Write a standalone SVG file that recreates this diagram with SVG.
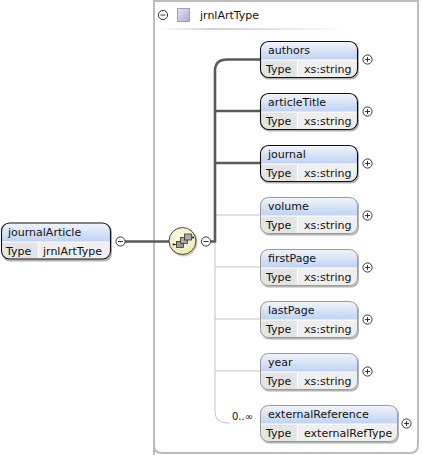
<svg xmlns="http://www.w3.org/2000/svg" width="422" height="455" viewBox="0 0 422 455">
<style>
text{font-family:"DejaVu Sans","Liberation Sans",sans-serif;font-size:11px;fill:#111}
.frame{fill:#fff;stroke:#bcbcbc;stroke-width:2}
.bold{fill:none;stroke:#5a5a5a;stroke-width:2.6}
.thin{fill:none;stroke:#c4c4c4;stroke-width:1}
.box{fill:#efefef}
.hd{fill:url(#hg)}
.cell{fill:#e4e4e4}
.sep{stroke:#fff;stroke-width:1.2}
.o1{fill:none;stroke:#111;stroke-width:1.1}
.o2{fill:none;stroke:#9a9a9a;stroke-width:1}
.shadow{fill:#000;opacity:.3}
.pm{fill:#fff;stroke:#222;stroke-width:.9}
.pl{stroke:#222;stroke-width:.9}
</style>
<defs>
<linearGradient id="hg" x1="0" y1="0" x2="0" y2="1"><stop offset="0" stop-color="#f2f6fd"/><stop offset="1" stop-color="#bed2f0"/></linearGradient>
<linearGradient id="ln" x1="0" y1="0" x2="1" y2="0"><stop offset="0" stop-color="#fff"/><stop offset=".3" stop-color="#d0d0d0"/><stop offset="1" stop-color="#fff"/></linearGradient>
<linearGradient id="sq" x1="0" y1="0" x2="1" y2="1"><stop offset="0" stop-color="#e8e2f3"/><stop offset="1" stop-color="#b5a6d4"/></linearGradient>
<radialGradient id="yl" cx=".4" cy=".35" r=".7"><stop offset="0" stop-color="#fdfbe0"/><stop offset="1" stop-color="#efe9b0"/></radialGradient>
<clipPath id="c98"><rect width="98" height="37" rx="8"/></clipPath>
<clipPath id="c138"><rect width="138" height="37" rx="8"/></clipPath>
<clipPath id="c110"><rect width="110" height="37" rx="8"/></clipPath>
<g id="plus"><circle r="4.6" class="pm"/><path class="pl" d="M-2.500 0H2.500M0-2.500V2.500"/></g>
<g id="minus"><circle r="4.6" class="pm"/><path class="pl" d="M-2.500 0H2.500"/></g>
</defs>
<path class="frame" d="M154 455V1H418V445Q418 453 410 453H162Q154 453 154 445"/>
<g id="group-header">
<use href="#minus" x="163" y="15"/>
<rect x="177.500" y="8.500" width="12" height="13" fill="url(#sq)" stroke="#a89cc4"/>
<text x="200" y="19">jrnlArtType</text>
<rect x="158" y="28" width="190" height="2" fill="url(#ln)"/>
</g>
<g id="connectors">
<path class="thin" d="M215 215H260M215 267H260M215 319H260M215 371H260M215 239V411Q215 423 227 423H230"/>
<path class="bold" d="M125 241.500H170"/>
<path class="bold" d="M211 241.500H215V71Q215 59.500 227 59.500H260M215 111H260M215 163H260"/>
<text x="232" y="420" style="font-size:10px">0..∞</text>
</g>
<g id="journalArticle">
<rect class="shadow" x="2" y="224" width="110" height="37.500" rx="8"/>
<g transform="translate(1,222.500)"><g clip-path="url(#c110)"><rect class="box" width="110" height="37"/><rect class="hd" width="110" height="19.500"/><rect class="cell" y="19.500" width="37" height="18"/><path class="sep" d="M0 19.500H110M37.500 19.500V37"/></g><rect class="o1" x=".5" y=".5" width="109" height="36" rx="8"/></g>
<text x="8" y="236">journalArticle</text>
<text x="6" y="255">Type</text>
<text x="43" y="255">jrnlArtType</text>
<use href="#minus" x="120.500" y="241.500"/>
</g>
<g id="sequence">
<circle cx="183.500" cy="242.500" r="14" fill="#000" opacity=".2"/>
<circle cx="182.500" cy="241" r="13.500" fill="url(#yl)" stroke="#444"/>
<path d="M173.500 244.500H177M186 241V237M194 237.500H192" stroke="#333" fill="none"/>
<rect x="176.500" y="241.500" width="7" height="6" fill="#999" stroke="#333" stroke-width=".8"/>
<rect x="180.500" y="237.500" width="7" height="6" fill="#aaa" stroke="#333" stroke-width=".8"/>
<rect x="184.500" y="234" width="7" height="6" fill="#aaa" stroke="#333" stroke-width=".8"/>
<circle cx="173.500" cy="244.500" r="1" fill="#111"/><circle cx="193" cy="237.500" r="1" fill="#111"/>
<use href="#minus" x="206" y="241.500"/>
</g>
<g id="authors">
<rect class="shadow" x="261" y="42" width="98" height="37.500" rx="8"/>
<g transform="translate(260,41)"><g clip-path="url(#c98)"><rect class="box" width="98" height="37"/><rect class="hd" width="98" height="19"/><rect class="cell" y="19" width="37" height="18"/><path class="sep" d="M0 19H98M37.500 19V37"/></g><rect class="o1" x=".5" y=".5" width="97" height="36" rx="8"/></g>
<text x="268" y="54">authors</text><text x="266" y="73">Type</text><text x="304" y="73">xs:string</text>
<use href="#plus" x="367.500" y="59.500"/>
</g>
<g id="articleTitle">
<rect class="shadow" x="261" y="94" width="98" height="37.500" rx="8"/>
<g transform="translate(260,93)"><g clip-path="url(#c98)"><rect class="box" width="98" height="37"/><rect class="hd" width="98" height="19"/><rect class="cell" y="19" width="37" height="18"/><path class="sep" d="M0 19H98M37.500 19V37"/></g><rect class="o1" x=".5" y=".5" width="97" height="36" rx="8"/></g>
<text x="268" y="106">articleTitle</text><text x="266" y="125">Type</text><text x="304" y="125">xs:string</text>
<use href="#plus" x="367.500" y="111.500"/>
</g>
<g id="journal">
<rect class="shadow" x="261" y="146" width="98" height="37.500" rx="8"/>
<g transform="translate(260,145)"><g clip-path="url(#c98)"><rect class="box" width="98" height="37"/><rect class="hd" width="98" height="19"/><rect class="cell" y="19" width="37" height="18"/><path class="sep" d="M0 19H98M37.500 19V37"/></g><rect class="o1" x=".5" y=".5" width="97" height="36" rx="8"/></g>
<text x="268" y="158">journal</text><text x="266" y="177">Type</text><text x="304" y="177">xs:string</text>
<use href="#plus" x="367.500" y="163.500"/>
</g>
<g id="volume">
<rect class="shadow" x="261" y="198" width="98" height="37.500" rx="8"/>
<g transform="translate(260,197)"><g clip-path="url(#c98)"><rect class="box" width="98" height="37"/><rect class="hd" width="98" height="19"/><rect class="cell" y="19" width="37" height="18"/><path class="sep" d="M0 19H98M37.500 19V37"/></g><rect class="o2" x=".5" y=".5" width="97" height="36" rx="8"/></g>
<text x="268" y="210">volume</text><text x="266" y="229">Type</text><text x="304" y="229">xs:string</text>
<use href="#plus" x="367.500" y="215.500"/>
</g>
<g id="firstPage">
<rect class="shadow" x="261" y="250" width="98" height="37.500" rx="8"/>
<g transform="translate(260,249)"><g clip-path="url(#c98)"><rect class="box" width="98" height="37"/><rect class="hd" width="98" height="19"/><rect class="cell" y="19" width="37" height="18"/><path class="sep" d="M0 19H98M37.500 19V37"/></g><rect class="o2" x=".5" y=".5" width="97" height="36" rx="8"/></g>
<text x="268" y="262">firstPage</text><text x="266" y="281">Type</text><text x="304" y="281">xs:string</text>
<use href="#plus" x="367.500" y="267.500"/>
</g>
<g id="lastPage">
<rect class="shadow" x="261" y="302" width="98" height="37.500" rx="8"/>
<g transform="translate(260,301)"><g clip-path="url(#c98)"><rect class="box" width="98" height="37"/><rect class="hd" width="98" height="19"/><rect class="cell" y="19" width="37" height="18"/><path class="sep" d="M0 19H98M37.500 19V37"/></g><rect class="o2" x=".5" y=".5" width="97" height="36" rx="8"/></g>
<text x="268" y="314">lastPage</text><text x="266" y="333">Type</text><text x="304" y="333">xs:string</text>
<use href="#plus" x="367.500" y="319.500"/>
</g>
<g id="year">
<rect class="shadow" x="261" y="354" width="98" height="37.500" rx="8"/>
<g transform="translate(260,353)"><g clip-path="url(#c98)"><rect class="box" width="98" height="37"/><rect class="hd" width="98" height="19"/><rect class="cell" y="19" width="37" height="18"/><path class="sep" d="M0 19H98M37.500 19V37"/></g><rect class="o2" x=".5" y=".5" width="97" height="36" rx="8"/></g>
<text x="268" y="366">year</text><text x="266" y="385">Type</text><text x="304" y="385">xs:string</text>
<use href="#plus" x="367.500" y="371.500"/>
</g>
<g id="externalReference">
<rect class="shadow" x="261" y="406" width="138" height="37.500" rx="8"/>
<g transform="translate(260,405)"><g clip-path="url(#c138)"><rect class="box" width="138" height="37"/><rect class="hd" width="138" height="19"/><rect class="cell" y="19" width="37" height="18"/><path class="sep" d="M0 19H138M37.500 19V37"/></g><rect class="o2" x=".5" y=".5" width="137" height="36" rx="8"/></g>
<text x="268" y="418">externalReference</text><text x="266" y="437">Type</text><text x="304" y="437">externalRefType</text>
<use href="#plus" x="406.500" y="423.500"/>
</g>
</svg>
